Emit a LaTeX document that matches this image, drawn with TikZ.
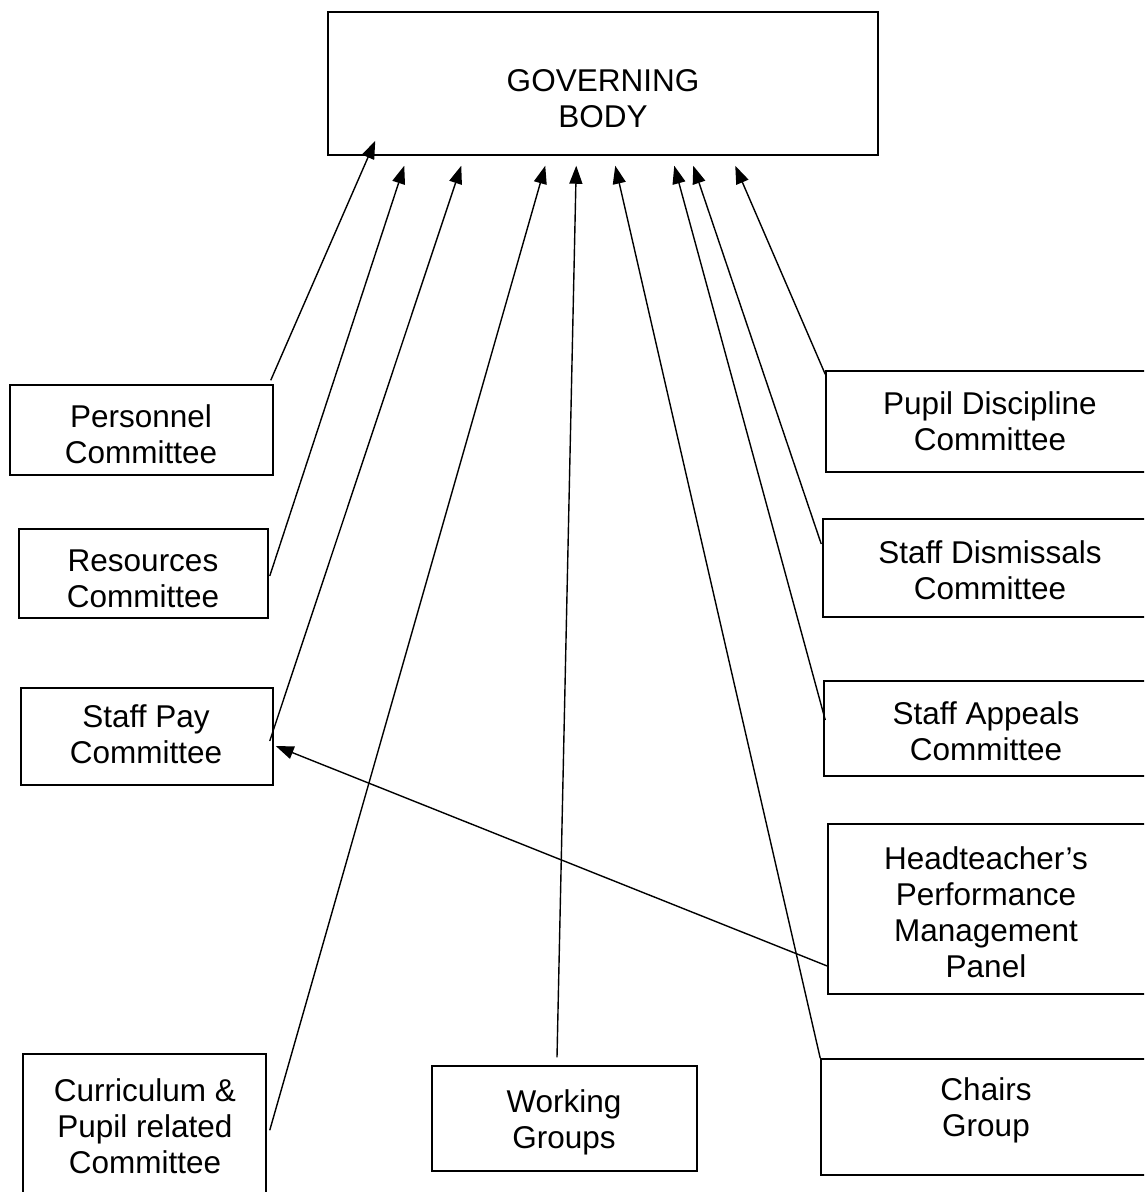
\documentclass[tikz,border=0pt]{standalone}
\usepackage{fontspec}
\setmainfont{Liberation Sans}
\usetikzlibrary{arrows.meta,calc}
\newcommand{\lnstrut}{\rule[-10.8pt]{0pt}{36pt}}
\begin{document}
\begin{tikzpicture}[x=1pt,y=-1pt,
  box/.style={draw,line width=1.5pt,inner sep=0pt},
  txt/.style={align=center,inner sep=0pt,font=\fontsize{31.5}{36}\selectfont,
    execute at begin node=\lnstrut,execute at end node=\lnstrut},
  arr/.style={line width=1.4pt,-{Triangle[length=18pt,width=13pt]}}]
\useasboundingbox (0,0) rectangle (1144,1192);
\clip (0,0) rectangle (1144,1192);
% boxes
\node[box,minimum width=550pt,minimum height=143pt] (gb) at (603,83.5) {};
\node[box,minimum width=263pt,minimum height=90pt] (pers) at (141.5,430) {};
\node[box,minimum width=249pt,minimum height=89pt] (res) at (143.5,573.5) {};
\node[box,minimum width=252pt,minimum height=97pt] (pay) at (147,736.5) {};
\node[box,minimum width=243pt,minimum height=156pt] (curr) at (144.5,1132) {};
\node[box,minimum width=265pt,minimum height=105pt] (work) at (564.5,1118.5) {};
\node[box,minimum width=329pt,minimum height=116pt] (chairs) at (985.5,1117) {};
\node[box,minimum width=324pt,minimum height=101pt] (pupil) at (988,421.5) {};
\node[box,minimum width=327pt,minimum height=98pt] (dism) at (986.5,568) {};
\node[box,minimum width=326pt,minimum height=95pt] (appeal) at (987,728.5) {};
\node[box,minimum width=322pt,minimum height=170pt] (head) at (989,909) {};
% texts
\node[txt] (gbt) at (603,104) {GOVERNING\\BODY};
\node[txt] (perst) at (141,439) {Personnel\\Committee};
\node[txt] (rest) at (143,584.5) {Resources\\Committee};
\node[txt] (payt) at (146,739.5) {Staff Pay\\Committee};
\node[txt] (currt) at (145,1131) {Curriculum \&\\Pupil related\\Committee};
\node[txt] (workt) at (564,1124) {Working\\Groups};
\node[txt] (chairst) at (986,1112) {Chairs\\Group};
\node[txt] (pupilt) at (990,426) {Pupil Discipline\\Committee};
\node[txt] (dismt) at (990,575.5) {Staff Dismissals\\Committee};
\node[txt] (appealt) at (986,736.5) {Staff Appeals\\Committee};
\node[txt] (headt) at (986,917) {Headteacher’s\\Performance\\Management\\Panel};
% connectors
\draw[arr] ($(pers.north east)+(-3,-4)$) -- ($(gb.south west)+(48,-15)$);
\draw[arr] ($(res.east)+(1,2.5)$) -- ($(gb.south west)+(77,10)$);
\draw[arr] ($(pay.east)+(-4,4.5)$) -- ($(gb.south west)+(134,10)$);
\draw[arr] ($(curr.north east)+(3,77)$) -- ($(gb.south west)+(218,10)$);
\draw[arr] ($(work.north)+(-7.5,-8)$) -- ($(gb.south west)+(249,10)$);
\draw[arr] (chairs.north west) -- ($(gb.south west)+(288,10)$);
\draw[arr] ($(appeal.west)+(2,-8.5)$) -- ($(gb.south west)+(347,10)$);
\draw[arr] ($(dism.west)+(-1,-24)$) -- ($(gb.south west)+(366,10)$);
\draw[arr] ($(pupil.north west)+(0,4)$) -- ($(gb.south west)+(408,10)$);
\draw[arr] ($(head.west)+(0,57)$) -- ($(pay.east)+(2,9.5)$);
\end{tikzpicture}
\end{document}
